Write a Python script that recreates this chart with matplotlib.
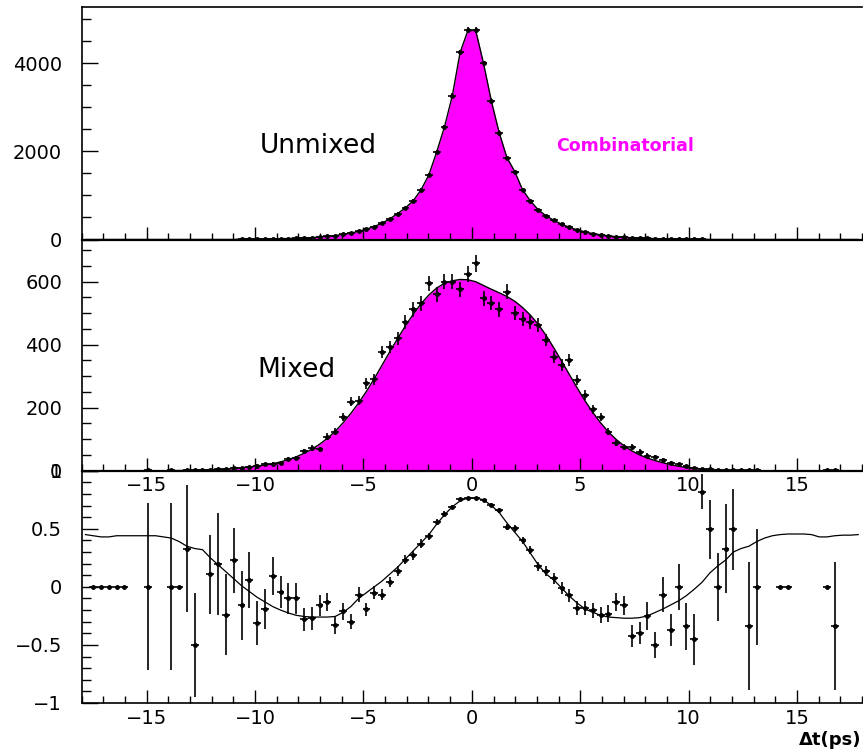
import numpy as np
import matplotlib
matplotlib.use("Agg")
import matplotlib.pyplot as plt
from matplotlib.ticker import MultipleLocator

# 100 bins of 0.36 ps between -18 and 18
edges = np.linspace(-18, 18, 101)
centers = 0.5 * (edges[:-1] + edges[1:])
half_bin = 0.18

unmixed = [
    0, 0, 0, 0, 0, 0, 0, 0, 0, 0,
    0, 0, 0, 0, 0, 0, 0, 0, 0, 0,
    9, 11, 12, 14, 16, 19, 22, 28, 34, 42,
    55, 70, 90, 115, 145, 185, 235, 295, 370, 470,
    590, 720, 880, 1130, 1470, 1990, 2560, 3266, 4250, 4750,
    4750, 4000, 3150, 2430, 1860, 1545, 1130, 880, 675, 540,
    435, 350, 275, 220, 172, 135, 105, 82, 64, 50,
    40, 32, 26, 21, 17, 14, 11, 9, 7, 5,
    0, 0, 0, 0, 0, 0, 0, 0, 0, 0,
    0, 0, 0, 0, 0, 0, 0, 0, 0, 0,
]

mixed = [
    0, 0, 0, 0, 0, 0, 0, 0, 1, 0,
    0, 1, 0, 1, 2, 2, 3, 4, 5, 7,
    9, 12, 16, 20, 22, 25, 36, 40, 62, 72,
    68, 108, 124, 171, 219, 222, 277, 290, 378, 392,
    420, 473, 512, 531, 595, 560, 600, 600, 576, 624,
    658, 547, 533, 512, 568, 500, 481, 473, 463, 415,
    362, 336, 351, 288, 240, 195, 171, 124, 87, 76,
    76, 60, 48, 44, 33, 26, 20, 14, 10, 6,
    4, 3, 2, 2, 1, 2, 1, 0, 0, 0,
    0, 0, 0, 0, 0, 1, 1, 0, 0, 0,
]

mixed_fit = [
    0, 0, 0, 0, 0, 0, 0, 0, 0, 0,
    0, 0, 0.5, 1, 1.5, 2, 3, 4, 5, 7,
    9, 12, 15, 18, 22, 28, 35, 44, 55, 68,
    84, 103, 125, 152, 182, 215, 252, 292, 335, 378,
    420, 460, 497, 530, 558, 580, 595, 603, 607, 606,
    600, 588, 576, 565, 553, 538, 518, 494, 465, 430,
    390, 348, 305, 263, 222, 185, 152, 123, 99, 79,
    63, 50, 40, 32, 25, 19, 14, 10, 7, 5,
    3, 2, 1, 1, 0.5, 0.5, 0, 0, 0, 0,
    0, 0, 0, 0, 0, 0, 0, 0, 0, 0,
]

nan = np.nan
asym = [
    nan, 0, 0, 0, 0, 0, nan, nan, 0, nan,
    nan, 0, 0, 0.33, -0.5, nan, 0.107, 0.2, -0.24, 0.23,
    -0.16, 0.06, -0.31, -0.19, 0.095, -0.045, -0.10, -0.10, -0.28, -0.27,
    -0.16, -0.13, -0.33, -0.21, -0.30, -0.066, -0.195, -0.05, -0.066, 0.043,
    0.138, 0.235, 0.27, 0.373, 0.437, 0.56, 0.63, 0.69, 0.753, 0.762,
    0.762, 0.747, 0.705, 0.66, 0.517, 0.503, 0.40, 0.316, 0.178, 0.138,
    0.072, -0.008, -0.072, -0.186, -0.186, -0.20, -0.244, -0.23, -0.13, -0.16,
    -0.42, -0.40, -0.25, -0.50, -0.066, -0.37, 0.0, -0.34, -0.45, 0.82,
    0.494, 0.0, 0.33, 0.494, nan, -0.34, 0.0, nan, nan, 0,
    0, nan, nan, nan, nan, 0, -0.34, nan, nan, nan,
]

asym_err = [
    0, 0, 0, 0, 0, 0, 0, 0, 0.72, 0,
    0, 0.72, 0, 0.55, 0.45, 0, 0.34, 0.44, 0.35, 0.28,
    0.30, 0.24, 0.19, 0.17, 0.165, 0.14, 0.13, 0.13, 0.10, 0.10,
    0.09, 0.08, 0.08, 0.075, 0.065, 0.065, 0.06, 0.055, 0.05, 0.045,
    0.045, 0.04, 0.04, 0.035, 0.03, 0.025, 0.02, 0.015, 0.012, 0.01,
    0.01, 0.012, 0.015, 0.02, 0.025, 0.03, 0.03, 0.035, 0.04, 0.045,
    0.05, 0.05, 0.055, 0.06, 0.06, 0.065, 0.07, 0.075, 0.08, 0.085,
    0.095, 0.095, 0.12, 0.11, 0.15, 0.14, 0.20, 0.20, 0.22, 0.15,
    0.25, 0.29, 0.38, 0.35, 0, 0.55, 0.5, 0, 0, 0,
    0, 0, 0, 0, 0, 0, 0.55, 0, 0, 0,
]

asym_fit = [
    0.45, 0.44, 0.43, 0.43, 0.44, 0.44, 0.44, 0.44, 0.44, 0.44,
    0.43, 0.42, 0.39, 0.35, 0.33, 0.32, 0.25, 0.19, 0.13, 0.07,
    0.01, -0.04, -0.09, -0.13, -0.17, -0.20, -0.225, -0.245, -0.255, -0.26,
    -0.26, -0.26, -0.255, -0.22, -0.17, -0.10, -0.05, 0.0, 0.05, 0.11,
    0.17, 0.24, 0.31, 0.38, 0.45, 0.54, 0.62, 0.69, 0.74, 0.765,
    0.765, 0.75, 0.70, 0.64, 0.55, 0.47, 0.39, 0.29, 0.19, 0.11,
    0.06, -0.01, -0.08, -0.14, -0.19, -0.22, -0.245, -0.26, -0.265, -0.27,
    -0.27, -0.265, -0.25, -0.22, -0.19, -0.155, -0.12, -0.075, -0.02, 0.04,
    0.12, 0.18, 0.23, 0.30, 0.33, 0.35, 0.39, 0.42, 0.44, 0.45,
    0.455, 0.455, 0.455, 0.45, 0.43, 0.43, 0.44, 0.445, 0.445, 0.45,
]

magenta = "#ff00ff"
plt.rcParams["font.family"] = ["DejaVu Sans"]

fig = plt.figure(figsize=(8.63, 7.56), dpi=100)
H = 756.0
left = 81.5 / 863
width = 1 - left - 0.001
ax1 = fig.add_axes([left, 1 - 239.5 / H, width, (239.5 - 6.7) / H])
ax2 = fig.add_axes([left, 1 - 470.7 / H, width, (470.7 - 239.5) / H])
ax3 = fig.add_axes([left, 1 - 703 / H, width, (703 - 470.7) / H])


def style(ax, xlabels=True, top=False, bottom_lw=1.6):
    ax.set_xlim(-18, 18)
    ax.xaxis.set_major_locator(MultipleLocator(5))
    ax.xaxis.set_minor_locator(MultipleLocator(1))
    ax.tick_params(axis="x", which="both", direction="in", top=False, bottom=True,
                   labelbottom=xlabels, labelsize=14, pad=4, width=1)
    ax.tick_params(axis="x", which="major", length=9.5)
    ax.tick_params(axis="x", which="minor", length=5)
    ax.tick_params(axis="y", which="both", direction="in", right=False, left=True,
                   labelsize=14, pad=14, width=1)
    ax.tick_params(axis="y", which="major", length=11.5)
    ax.tick_params(axis="y", which="minor", length=6.5)
    ax.spines["right"].set_visible(False)
    ax.spines["top"].set_visible(top)
    ax.spines["bottom"].set_linewidth(bottom_lw)
    ax.spines["left"].set_linewidth(1.2)
    ax.spines["top"].set_linewidth(1.2)
    ax.patch.set_alpha(0)


def draw_counts(ax, counts, fill_vals):
    counts = np.asarray(counts, dtype=float)
    fill_vals = np.asarray(fill_vals, dtype=float)
    ax.fill_between(centers, 0, fill_vals, color=magenta, lw=0, zorder=1)
    ax.plot(centers, fill_vals, color="k", lw=1, zorder=2)
    m = counts > 0
    ax.errorbar(centers[m], counts[m], xerr=half_bin, yerr=np.sqrt(counts[m]),
                fmt="o", ms=2.5, color="k", elinewidth=1.2, capsize=0, zorder=3)


# Unmixed
draw_counts(ax1, unmixed, unmixed)
ax1.set_ylim(0, 5290)
ax1.yaxis.set_major_locator(MultipleLocator(2000))
ax1.yaxis.set_minor_locator(MultipleLocator(500))
style(ax1, xlabels=False, top=True)
ax1.text(-7.1, 2130, "Unmixed", fontsize=19, ha="center", va="center")
ax1.text(7.05, 2130, "Combinatorial", fontsize=12.5, fontweight="bold",
         color=magenta, ha="center", va="center")

# Mixed
draw_counts(ax2, mixed, mixed_fit)
ax2.set_ylim(0, 734)
ax2.yaxis.set_major_locator(MultipleLocator(200))
ax2.yaxis.set_minor_locator(MultipleLocator(50))
style(ax2)
ax2.text(-8.1, 320, "Mixed", fontsize=19, ha="center", va="center")

# Asymmetry
a = np.asarray(asym, dtype=float)
ae = np.asarray(asym_err, dtype=float)
m = ~np.isnan(a)
ax3.plot(centers, asym_fit, color="k", lw=0.9, zorder=2)
ax3.errorbar(centers[m], a[m], xerr=half_bin, yerr=ae[m], fmt="o", ms=2.5,
             color="k", elinewidth=1.2, capsize=0, zorder=3)
ax3.set_ylim(-1, 1)
ax3.yaxis.set_major_locator(MultipleLocator(0.5))
ax3.yaxis.set_minor_locator(MultipleLocator(0.1))
ax3.set_yticks([-1, -0.5, 0, 0.5, 1])
ax3.set_yticklabels(["\u22121", "\u22120.5", "0", "0.5", "1"])
style(ax3, bottom_lw=1.2)

fig.text(0.998, 1 - 740 / H, "\u0394t(ps)", ha="right", va="center",
         fontsize=13, fontweight="bold")

fig.savefig("out.png", dpi=100)
